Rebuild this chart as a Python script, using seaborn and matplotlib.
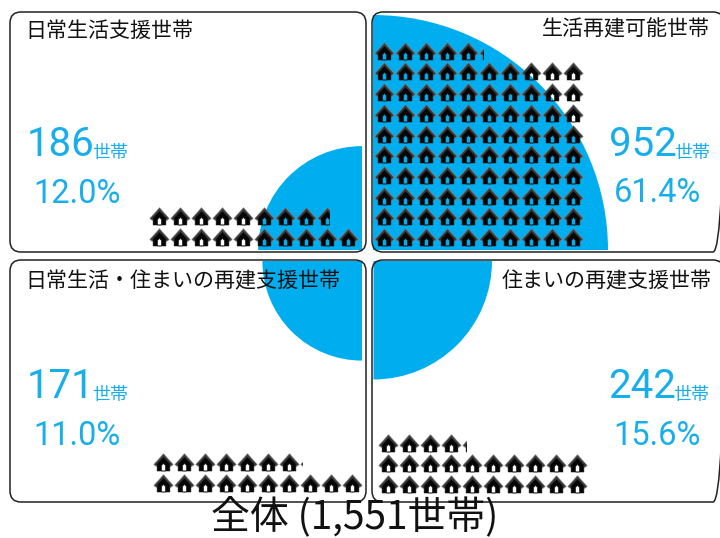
import matplotlib
matplotlib.use("Agg")
import matplotlib.pyplot as plt
import numpy as np
import pandas as pd
import seaborn as sns
from matplotlib.patches import FancyBboxPatch, Rectangle, Wedge
from matplotlib.path import Path

# Households by support category
panel_names = ["日常生活支援世帯", "生活再建可能世帯", "日常生活・住まいの再建支援世帯", "住まいの再建支援世帯"]
households = [186, 952, 171, 242]
share_labels = ["12.0%", "61.4%", "11.0%", "15.6%"]
total_label = "全体 (1,551世帯)"

# Pixel-based layout for each panel
box_rects = [(10, 12, 356, 240), (372, 12, 352, 240), (10, 260, 356, 242), (372, 260, 352, 242)]
wedge_centers = [(362, 250), (373, 250), (362, 261), (373.5, 261)]
wedge_angles = [(180, 270), (270, 360), (90, 180), (0, 90)]
house_origins = [(159, 237), (384, 237), (163, 483), (388, 484)]
title_pos = [(25, 31, "left"), (710, 29, "right"), (25, 281, "left"), (712, 281, "right")]
count_pos = [(27, 144), (609, 144), (27, 386), (608, 386)]
unit_pos = [(92, 153), (674, 153), (92, 395), (673, 395)]
share_pos = [(33, 194), (614, 193), (33, 436), (613, 436)]

BLUE = "#00AEEF"
TEXT_BLUE = "#18AEEC"
R_PER_SQRT = 235 / np.sqrt(952)
HOUSES_PER = 10
COLS = 10
PITCH_X, PITCH_Y = 21.0, 20.7
HOUSE_W = 20.0

sns.set_theme(style="white")
plt.rcParams["font.family"] = ["Noto Sans CJK JP", "DejaVu Sans"]
NUM_FONT = ["Roboto", "Noto Sans CJK JP", "DejaVu Sans"]

fig = plt.figure(figsize=(7.2, 5.38), dpi=100, facecolor="white")
ax = fig.add_axes([0, 0, 1, 1])
ax.set_xlim(0, 720)
ax.set_ylim(538, 0)
ax.axis("off")

# Roof chevron and body with a door opening, in marker coordinates
roof = Path(
    [(-0.97, -0.2), (0.0, 0.88), (0.97, -0.2), (0.72, -0.4), (0.0, 0.4), (-0.72, -0.4), (-0.97, -0.2)],
    [Path.MOVETO] + [Path.LINETO] * 5 + [Path.CLOSEPOLY],
)
body = Path(
    [(-0.64, -0.85), (-0.64, -0.16), (0.0, 0.52), (0.64, -0.16), (0.64, -0.85), (-0.64, -0.85),
     (-0.19, -0.85), (0.19, -0.85), (0.19, -0.3), (0.0, -0.1), (-0.19, -0.3), (-0.19, -0.85)],
    [Path.MOVETO] + [Path.LINETO] * 4 + [Path.CLOSEPOLY,
     Path.MOVETO] + [Path.LINETO] * 4 + [Path.CLOSEPOLY],
)
marker_s = (HOUSE_W * 0.72) ** 2


def draw_houses(xs, ys, clip=None):
    frame = pd.DataFrame({"x": xs, "y": ys})
    for path, face, edge, z in ((roof, "#3a3a3a", "#858585", 4), (body, "#050505", "#1a1a1a", 5)):
        # Custom markers are normalised to their largest vertex, so rescale to a common size
        size = marker_s * np.abs(path.vertices).max() ** 2
        sns.scatterplot(data=frame, x="x", y="y", marker=path, s=size, color=face,
                        edgecolor=edge, linewidth=0.4, ax=ax, legend=False, zorder=z)
        if clip is not None:
            ax.collections[-1].set_clip_path(clip)


for i, name in enumerate(panel_names):
    x, y, w, h = box_rects[i]
    value = households[i]

    # Quarter circle whose area scales with the household count
    ax.add_patch(Wedge(wedge_centers[i], R_PER_SQRT * np.sqrt(value), *wedge_angles[i],
                       facecolor=BLUE, edgecolor="none", zorder=1))
    ax.add_patch(FancyBboxPatch((x, y), w, h, boxstyle="round,pad=0,rounding_size=11",
                                facecolor="none", edgecolor="#222222", linewidth=1.1, zorder=3,
                                clip_on=False))

    # Pictogram: one house per ten households, filled from the bottom row up
    whole = value // HOUSES_PER
    fraction = value / HOUSES_PER - whole
    ox, oy = house_origins[i]
    cols = np.arange(whole) % COLS
    rows = np.arange(whole) // COLS
    draw_houses(ox + cols * PITCH_X, oy - rows * PITCH_Y)
    if fraction > 0:
        px = ox + (whole % COLS) * PITCH_X
        py = oy - (whole // COLS) * PITCH_Y
        clip = Rectangle((px - HOUSE_W / 2, py - 12), HOUSE_W * fraction, 24, transform=ax.transData)
        draw_houses([px], [py], clip=clip)

    tx, ty, ha = title_pos[i]
    ax.text(tx, ty, name, fontsize=15.1, color="#111111", ha=ha, va="center", zorder=6)
    ax.text(*count_pos[i], str(value), fontsize=29, color=TEXT_BLUE, ha="left", va="center",
            family=NUM_FONT, zorder=6)
    ax.text(*unit_pos[i], "世帯", fontsize=13, color=TEXT_BLUE, ha="left", va="center", zorder=6)
    ax.text(*share_pos[i], share_labels[i], fontsize=23.5, color=TEXT_BLUE, ha="left", va="center",
            family=NUM_FONT, zorder=6)

ax.text(355, 528, total_label, fontsize=28, color="#111111", ha="center", va="baseline", zorder=6)

fig.savefig("out.png", dpi=100, facecolor="white")
